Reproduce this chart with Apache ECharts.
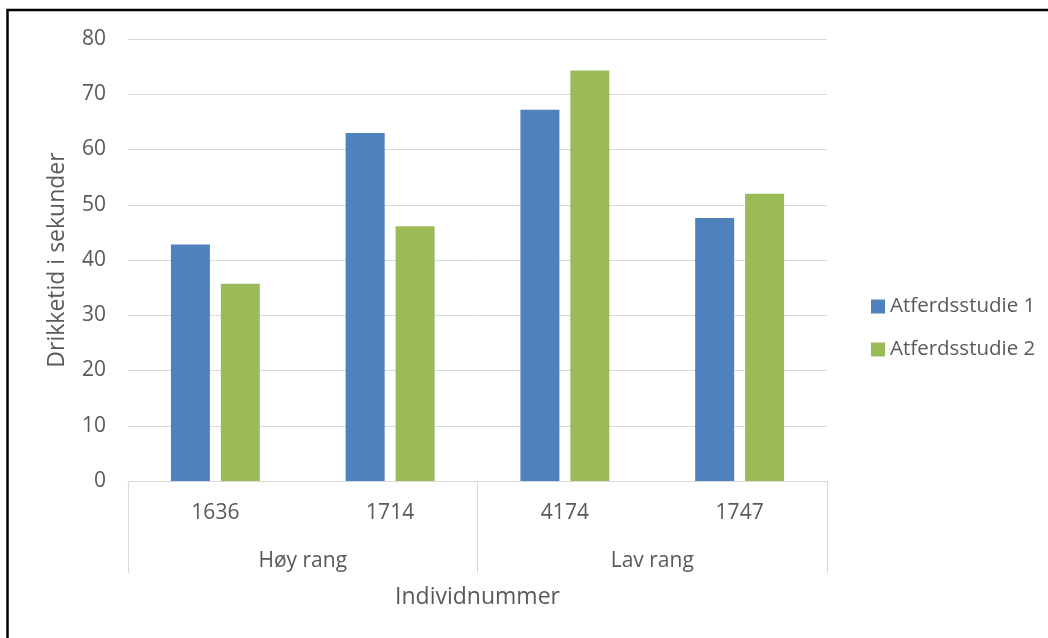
<!DOCTYPE html>
<html>
<head>
<meta charset="utf-8">
<title>Drikketid i sekunder</title>
<script src="https://cdn.jsdelivr.net/npm/echarts@6/dist/echarts.min.js"></script>
<style>
  html, body { margin: 0; padding: 0; background: #ffffff; }
  #chart { width: 1048px; height: 638px; }
</style>
</head>
<body>
<div id="chart"></div>
<script>
// Individuals (inner category level) and rank groups (outer level)
const individuals = ['1636', '1714', '4174', '1747'];
const rankGroups = ['Høy rang', 'Lav rang'];

// Drinking time in seconds per individual
const studie1 = [42.8, 63.0, 67.2, 47.6];
const studie2 = [35.7, 46.1, 74.3, 52.0];

const seriesNames = ['Atferdsstudie 1', 'Atferdsstudie 2'];
const yTicks = { min: 0, max: 80, interval: 10 };

const FONT = '"Open Sans", "DejaVu Sans", sans-serif';
const TEXT = '#595959';
const GRID = '#d9d9d9';

const chart = echarts.init(document.getElementById('chart'), null, { renderer: 'canvas' });

chart.setOption({
  animation: false,
  backgroundColor: '#ffffff',
  textStyle: { fontFamily: FONT },
  color: ['#4f81bd', '#9bbb59'],
  grid: { left: 128, right: 221, top: 39, bottom: 157, containLabel: false },
  legend: {
    orient: 'vertical',
    left: 866,
    top: 291,
    itemWidth: 14,
    itemHeight: 14,
    itemGap: 22,
    icon: 'rect',
    data: seriesNames,
    textStyle: { fontFamily: FONT, fontSize: 20.5, color: TEXT }
  },
  xAxis: [
    {
      type: 'category',
      data: individuals,
      position: 'bottom',
      axisLine: { show: true, lineStyle: { color: GRID, width: 1 } },
      axisTick: { show: false },
      axisLabel: { margin: 22, fontSize: 21, color: TEXT, fontFamily: FONT }
    },
    {
      type: 'category',
      data: rankGroups,
      position: 'bottom',
      boundaryGap: true,
      axisLine: { show: false },
      axisTick: { show: true, interval: 0, length: 92, lineStyle: { color: GRID, width: 1 } },
      axisLabel: { margin: 70, fontSize: 21, color: TEXT, fontFamily: FONT },
      name: 'Individnummer',
      nameLocation: 'middle',
      nameGap: 105,
      nameTextStyle: { fontSize: 23, color: TEXT, fontFamily: FONT }
    }
  ],
  yAxis: {
    type: 'value',
    min: yTicks.min,
    max: yTicks.max,
    interval: yTicks.interval,
    axisLine: { show: false },
    axisTick: { show: false },
    splitLine: { show: true, lineStyle: { color: GRID, width: 1 } },
    axisLabel: { margin: 22, fontSize: 21, color: TEXT, fontFamily: FONT },
    name: 'Drikketid i sekunder',
    nameLocation: 'middle',
    nameRotate: 90,
    nameGap: 59,
    nameTextStyle: { fontSize: 23, color: TEXT, fontFamily: FONT }
  },
  series: [
    {
      name: seriesNames[0],
      type: 'bar',
      xAxisIndex: 0,
      data: studie1,
      barWidth: 39,
      barGap: '28%'
    },
    {
      name: seriesNames[1],
      type: 'bar',
      xAxisIndex: 0,
      data: studie2,
      barWidth: 39,
      barGap: '28%'
    }
  ],
  graphic: [
    // Frame along the left and top edges
    { type: 'line', shape: { x1: 7.5, y1: 9, x2: 7.5, y2: 638 }, style: { stroke: '#000000', lineWidth: 2.5 } },
    { type: 'line', shape: { x1: 6.5, y1: 10, x2: 1048, y2: 10 }, style: { stroke: '#000000', lineWidth: 2.5 } }
  ]
});
</script>
</body>
</html>
